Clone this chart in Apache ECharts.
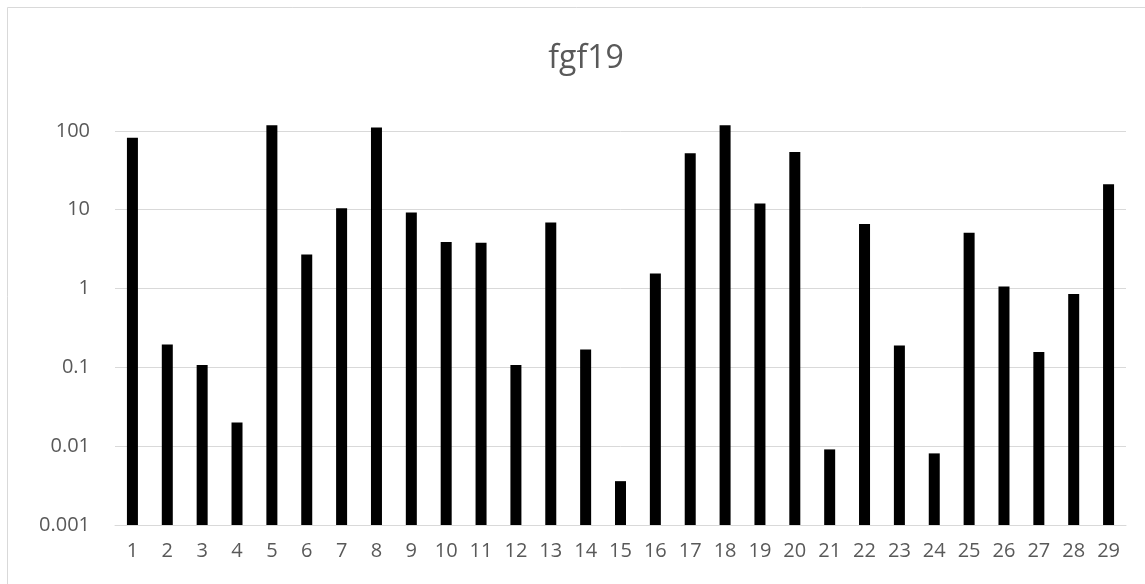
<!DOCTYPE html>
<html>
<head>
<meta charset="utf-8">
<script src="https://cdn.jsdelivr.net/npm/echarts@6/dist/echarts.min.js"></script>
<style>
  html, body { margin: 0; padding: 0; background: #fff; }
  #chart { width: 1145px; height: 584px; }
</style>
</head>
<body>
<div id="chart"></div>
<script>
// fgf19 expression per sample, shown on a log scale
const categories = ['1','2','3','4','5','6','7','8','9','10','11','12','13','14','15',
                    '16','17','18','19','20','21','22','23','24','25','26','27','28','29'];
const fgf19 = [82, 0.195, 0.107, 0.02, 118, 2.7, 10.4, 110, 9.2, 3.9, 3.8, 0.107, 6.9, 0.168, 0.0036,
               1.55, 52, 118, 12, 54, 0.0091, 6.6, 0.189, 0.0081, 5.1, 1.06, 0.157, 0.85, 21];
const yTickLabels = ['0.001', '0.01', '0.1', '1', '10', '100'];

const font = 'Open Sans, Lato, sans-serif';
const chart = echarts.init(document.getElementById('chart'));

chart.setOption({
  animation: false,
  backgroundColor: '#ffffff',
  title: {
    text: 'fgf19',
    left: 581,
    top: 38,
    textAlign: 'center',
    textStyle: { fontFamily: font, fontSize: 32, fontWeight: 'normal', color: '#595959' }
  },
  graphic: [{
    type: 'rect',
    shape: { x: 7.5, y: 7.5, width: 1150, height: 600 },
    style: { fill: 'none', stroke: '#d9d9d9', lineWidth: 1 },
    silent: true
  }],
  grid: { left: 115, right: 19, top: 117, bottom: 59 },
  xAxis: {
    type: 'category',
    data: categories,
    axisTick: { show: false },
    axisLine: { lineStyle: { color: '#d9d9d9', width: 1 } },
    axisLabel: { color: '#595959', fontFamily: font, fontSize: 20, margin: 16, interval: 0 }
  },
  yAxis: {
    type: 'log',
    logBase: 10,
    min: 0.001,
    max: 150,
    startValue: 0.001,
    axisLine: { show: false },
    axisTick: { show: false },
    axisLabel: {
      color: '#595959', fontFamily: font, fontSize: 20, margin: 25,
      showMaxLabel: false,
      formatter: function (v) {
        const e = Math.round(Math.log10(v));
        return (Math.abs(Math.log10(v) - e) < 1e-6 && e >= -3 && e <= 2) ? yTickLabels[e + 3] : '';
      }
    },
    splitLine: { show: true, showMaxLine: false, lineStyle: { color: '#d9d9d9', width: 1 } }
  },
  series: [{
    type: 'bar',
    data: fgf19,
    barWidth: 11,
    itemStyle: { color: '#000000' }
  }]
});
</script>
</body>
</html>
